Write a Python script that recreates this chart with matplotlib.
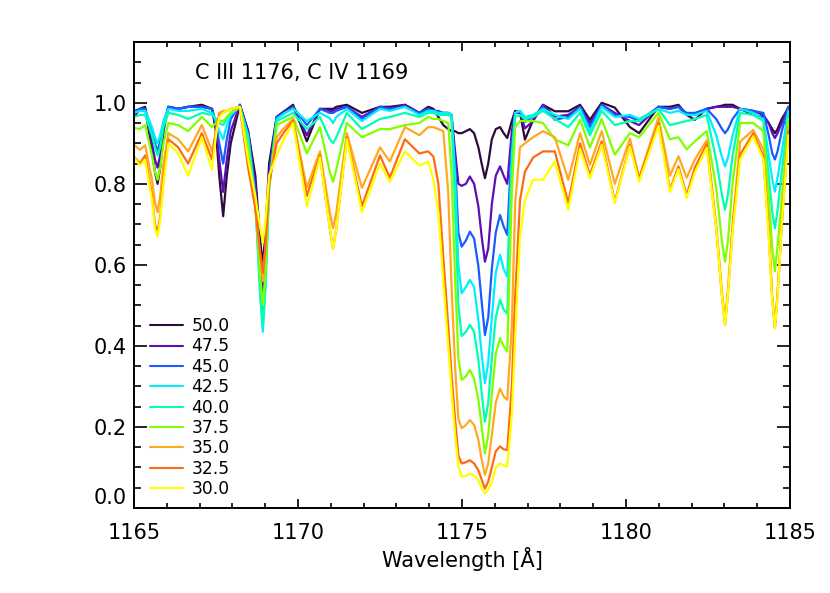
import matplotlib
matplotlib.use("Agg")
import matplotlib.pyplot as plt
from matplotlib.ticker import MultipleLocator

plt.rcParams['font.family'] = ['DejaVu Sans']

labels = ["50.0", "47.5", "45.0", "42.5", "40.0", "37.5", "35.0", "32.5", "30.0"]
colors = ["#2d0b3a", "#5a10b4", "#1a5aff", "#00eeff", "#00ffb4", "#80ff00", "#ffaa1e", "#ff6a14", "#ffff00"]

wave = [1165.00, 1165.18, 1165.34, 1165.55, 1165.72, 1165.90, 1166.05, 1166.35, 1166.65, 1167.07,
        1167.38, 1167.50, 1167.60, 1167.72, 1167.95, 1168.23, 1168.48, 1168.70, 1168.93, 1169.12,
        1169.35, 1169.60, 1169.85, 1170.27, 1170.67, 1171.07, 1171.49, 1171.95, 1172.50, 1172.80,
        1173.26, 1173.70, 1173.97, 1174.13, 1174.28, 1174.43, 1174.58, 1174.68, 1174.79, 1174.89,
        1174.99, 1175.12, 1175.24, 1175.37, 1175.50, 1175.60, 1175.70, 1175.80, 1175.91, 1176.03,
        1176.16, 1176.27, 1176.38, 1176.52, 1176.62, 1176.77, 1176.92, 1177.17, 1177.47, 1177.83,
        1178.24, 1178.60, 1178.90, 1179.26, 1179.66, 1180.12, 1180.40, 1180.99, 1181.34, 1181.60,
        1181.85, 1182.10, 1182.46, 1182.75, 1183.02, 1183.25, 1183.48, 1183.88, 1184.19, 1184.35,
        1184.54, 1184.75, 1184.95, 1185.00]

f500 = [0.965, 0.985, 0.990, 0.880, 0.800, 0.930, 0.990, 0.985, 0.990, 0.995,
        0.985, 0.930, 0.820, 0.720, 0.900, 0.995, 0.930, 0.820, 0.600, 0.850,
        0.965, 0.980, 0.995, 0.905, 0.985, 0.985, 0.995, 0.975, 0.990, 0.990,
        0.995, 0.975, 0.990, 0.985, 0.965, 0.945, 0.935, 0.930, 0.930, 0.925,
        0.925, 0.930, 0.935, 0.925, 0.890, 0.850, 0.814, 0.850, 0.910, 0.935,
        0.940, 0.925, 0.913, 0.955, 0.980, 0.975, 0.909, 0.958, 0.995, 0.979,
        0.979, 0.995, 0.958, 1.000, 0.988, 0.940, 0.925, 0.990, 0.990, 0.995,
        0.970, 0.958, 0.985, 0.990, 0.995, 0.995, 0.985, 0.970, 0.965, 0.950,
        0.925, 0.960, 0.987, 0.987]
f475 = [0.970, 0.985, 0.985, 0.900, 0.840, 0.940, 0.990, 0.985, 0.990, 0.990,
        0.985, 0.940, 0.860, 0.780, 0.930, 0.995, 0.930, 0.800, 0.535, 0.830,
        0.965, 0.980, 0.990, 0.920, 0.985, 0.980, 0.990, 0.965, 0.990, 0.985,
        0.995, 0.975, 0.985, 0.980, 0.975, 0.975, 0.975, 0.970, 0.880, 0.800,
        0.795, 0.800, 0.818, 0.800, 0.744, 0.670, 0.608, 0.640, 0.750, 0.820,
        0.843, 0.820, 0.800, 0.930, 0.975, 0.975, 0.937, 0.955, 0.995, 0.966,
        0.970, 0.990, 0.950, 0.995, 0.975, 0.955, 0.945, 0.990, 0.985, 0.990,
        0.970, 0.970, 0.985, 0.990, 0.990, 0.990, 0.985, 0.980, 0.970, 0.950,
        0.913, 0.950, 0.990, 0.990]
f450 = [0.980, 0.985, 0.985, 0.930, 0.880, 0.950, 0.990, 0.985, 0.990, 0.990,
        0.985, 0.950, 0.900, 0.850, 0.960, 0.995, 0.920, 0.780, 0.475, 0.810,
        0.965, 0.975, 0.990, 0.945, 0.985, 0.975, 0.990, 0.960, 0.990, 0.985,
        0.990, 0.975, 0.985, 0.980, 0.980, 0.975, 0.975, 0.970, 0.850, 0.680,
        0.645, 0.660, 0.682, 0.665, 0.596, 0.510, 0.427, 0.470, 0.590, 0.680,
        0.723, 0.695, 0.674, 0.900, 0.975, 0.980, 0.953, 0.965, 0.990, 0.958,
        0.965, 0.990, 0.940, 0.995, 0.970, 0.965, 0.955, 0.990, 0.985, 0.990,
        0.975, 0.975, 0.985, 0.960, 0.925, 0.960, 0.985, 0.980, 0.975, 0.920,
        0.860, 0.930, 0.990, 0.990]
f425 = [0.975, 0.980, 0.980, 0.940, 0.900, 0.955, 0.985, 0.980, 0.980, 0.985,
        0.975, 0.955, 0.930, 0.910, 0.970, 0.990, 0.920, 0.760, 0.435, 0.790,
        0.960, 0.975, 0.985, 0.955, 0.975, 0.950, 0.985, 0.955, 0.985, 0.980,
        0.990, 0.970, 0.980, 0.980, 0.975, 0.975, 0.975, 0.970, 0.820, 0.600,
        0.530, 0.545, 0.563, 0.545, 0.464, 0.380, 0.308, 0.360, 0.470, 0.580,
        0.625, 0.590, 0.571, 0.870, 0.975, 0.980, 0.965, 0.970, 0.985, 0.970,
        0.960, 0.985, 0.930, 0.990, 0.965, 0.970, 0.960, 0.985, 0.975, 0.980,
        0.970, 0.970, 0.980, 0.920, 0.843, 0.920, 0.985, 0.975, 0.960, 0.870,
        0.781, 0.880, 0.980, 0.980]
f400 = [0.965, 0.970, 0.970, 0.920, 0.870, 0.940, 0.975, 0.970, 0.960, 0.975,
        0.970, 0.960, 0.950, 0.945, 0.975, 0.990, 0.900, 0.760, 0.450, 0.790,
        0.955, 0.965, 0.975, 0.935, 0.965, 0.900, 0.975, 0.935, 0.960, 0.965,
        0.975, 0.965, 0.975, 0.975, 0.970, 0.970, 0.970, 0.965, 0.750, 0.500,
        0.424, 0.435, 0.452, 0.435, 0.365, 0.285, 0.213, 0.260, 0.370, 0.470,
        0.514, 0.490, 0.480, 0.840, 0.965, 0.970, 0.960, 0.965, 0.980, 0.960,
        0.940, 0.975, 0.920, 0.980, 0.945, 0.955, 0.955, 0.985, 0.945, 0.950,
        0.955, 0.960, 0.970, 0.860, 0.736, 0.870, 0.975, 0.970, 0.955, 0.820,
        0.690, 0.830, 0.970, 0.970]
f375 = [0.938, 0.935, 0.945, 0.870, 0.810, 0.900, 0.950, 0.945, 0.930, 0.965,
        0.940, 0.950, 0.955, 0.955, 0.975, 0.990, 0.890, 0.750, 0.500, 0.790,
        0.945, 0.955, 0.965, 0.875, 0.940, 0.805, 0.950, 0.915, 0.935, 0.935,
        0.945, 0.950, 0.965, 0.960, 0.960, 0.955, 0.950, 0.830, 0.570, 0.370,
        0.316, 0.325, 0.341, 0.320, 0.267, 0.200, 0.135, 0.180, 0.280, 0.380,
        0.419, 0.400, 0.386, 0.780, 0.940, 0.955, 0.955, 0.955, 0.950, 0.910,
        0.895, 0.958, 0.890, 0.960, 0.872, 0.925, 0.915, 0.975, 0.910, 0.915,
        0.885, 0.905, 0.930, 0.790, 0.608, 0.800, 0.950, 0.950, 0.930, 0.770,
        0.584, 0.760, 0.960, 0.960]
f350 = [0.896, 0.884, 0.895, 0.810, 0.730, 0.850, 0.925, 0.910, 0.880, 0.945,
        0.880, 0.930, 0.975, 0.980, 0.985, 0.990, 0.850, 0.740, 0.560, 0.800,
        0.915, 0.940, 0.960, 0.790, 0.880, 0.690, 0.925, 0.790, 0.890, 0.855,
        0.940, 0.920, 0.940, 0.940, 0.935, 0.930, 0.780, 0.550, 0.350, 0.220,
        0.197, 0.205, 0.217, 0.205, 0.168, 0.120, 0.082, 0.110, 0.180, 0.260,
        0.295, 0.275, 0.267, 0.450, 0.750, 0.890, 0.900, 0.915, 0.930, 0.915,
        0.810, 0.925, 0.847, 0.930, 0.800, 0.912, 0.815, 0.964, 0.820, 0.868,
        0.815, 0.860, 0.907, 0.700, 0.464, 0.700, 0.904, 0.933, 0.884, 0.700,
        0.447, 0.700, 0.940, 0.940]
f325 = [0.867, 0.850, 0.870, 0.770, 0.680, 0.810, 0.910, 0.890, 0.850, 0.925,
        0.860, 0.930, 0.970, 0.975, 0.985, 0.990, 0.840, 0.740, 0.580, 0.800,
        0.900, 0.930, 0.955, 0.770, 0.870, 0.640, 0.915, 0.745, 0.870, 0.815,
        0.910, 0.875, 0.880, 0.867, 0.800, 0.620, 0.450, 0.330, 0.220, 0.130,
        0.110, 0.113, 0.118, 0.110, 0.093, 0.070, 0.048, 0.065, 0.100, 0.140,
        0.152, 0.145, 0.143, 0.300, 0.520, 0.760, 0.830, 0.865, 0.880, 0.880,
        0.753, 0.900, 0.822, 0.905, 0.756, 0.896, 0.812, 0.950, 0.785, 0.843,
        0.772, 0.840, 0.898, 0.690, 0.452, 0.690, 0.872, 0.925, 0.867, 0.680,
        0.444, 0.700, 0.930, 0.930]
f300 = [0.865, 0.845, 0.860, 0.760, 0.670, 0.800, 0.900, 0.875, 0.820, 0.915,
        0.835, 0.920, 0.965, 0.975, 0.985, 0.990, 0.860, 0.770, 0.655, 0.820,
        0.870, 0.915, 0.950, 0.745, 0.865, 0.640, 0.910, 0.730, 0.850, 0.805,
        0.880, 0.845, 0.855, 0.810, 0.730, 0.560, 0.400, 0.290, 0.180, 0.105,
        0.077, 0.080, 0.085, 0.080, 0.069, 0.050, 0.036, 0.045, 0.065, 0.100,
        0.110, 0.105, 0.102, 0.230, 0.420, 0.670, 0.760, 0.810, 0.810, 0.855,
        0.736, 0.887, 0.814, 0.896, 0.752, 0.892, 0.805, 0.943, 0.780, 0.836,
        0.765, 0.828, 0.889, 0.690, 0.452, 0.680, 0.860, 0.917, 0.860, 0.670,
        0.444, 0.700, 0.920, 0.920]

# extra readings near the bottoms of the narrow absorption lines
wave_extra = [1165.64, 1165.80, 1167.83, 1168.85, 1169.01, 1170.97, 1171.17,
              1182.93, 1183.11, 1184.46, 1184.62]
e500 = [0.830, 0.840, 0.820, 0.660, 0.680, 0.985, 0.990, 0.993, 0.995, 0.935, 0.935]
e475 = [0.860, 0.870, 0.860, 0.610, 0.630, 0.980, 0.985, 0.990, 0.990, 0.925, 0.925]
e450 = [0.900, 0.905, 0.910, 0.560, 0.580, 0.975, 0.980, 0.935, 0.935, 0.875, 0.880]
e425 = [0.915, 0.920, 0.945, 0.520, 0.550, 0.962, 0.965, 0.865, 0.865, 0.810, 0.815]
e400 = [0.890, 0.890, 0.960, 0.530, 0.550, 0.910, 0.915, 0.770, 0.775, 0.730, 0.735]
e375 = [0.830, 0.840, 0.965, 0.570, 0.580, 0.830, 0.835, 0.655, 0.660, 0.640, 0.645]
e350 = [0.755, 0.770, 0.980, 0.620, 0.640, 0.730, 0.730, 0.530, 0.540, 0.520, 0.530]
e325 = [0.700, 0.720, 0.980, 0.630, 0.650, 0.690, 0.690, 0.520, 0.530, 0.515, 0.525]
e300 = [0.690, 0.710, 0.980, 0.690, 0.710, 0.690, 0.690, 0.520, 0.530, 0.510, 0.520]

series = [f500, f475, f450, f425, f400, f375, f350, f325, f300]
extras = [e500, e475, e450, e425, e400, e375, e350, e325, e300]
yticks = [0.0, 0.2, 0.4, 0.6, 0.8, 1.0]
ytick_labels = ["0.0", "0.2", "0.4", "0.6", "0.8", "1.0"]

fig = plt.figure(figsize=(8.30, 5.93), dpi=100)
ax = fig.add_axes([0.1614, 0.1433, 0.7904, 0.7859])

for lab, col, vals, ext in zip(labels, colors, series, extras):
    pts = sorted(zip(wave + wave_extra, vals + ext))
    xs = [p[0] for p in pts]
    ys = [p[1] for p in pts]
    ax.plot(xs, ys, color=col, lw=1.6, label=lab,
            solid_joinstyle='round', solid_capstyle='round')

ax.set_xlim(1165, 1185)
ax.set_ylim(0.0, 1.15)
ax.xaxis.set_major_locator(MultipleLocator(5))
ax.xaxis.set_minor_locator(MultipleLocator(1))
ax.yaxis.set_minor_locator(MultipleLocator(0.05))
ax.set_yticks(yticks)
ax.set_yticklabels(ytick_labels)
ax.get_yticklabels()[0].set_verticalalignment('bottom')
ax.tick_params(which='both', direction='in', top=True, right=True, width=1.2)
ax.tick_params(axis='x', which='major', length=6.7, labelsize=15, pad=11)
ax.tick_params(axis='x', which='minor', length=3.4)
ax.tick_params(axis='y', which='major', length=9.4, labelsize=15, pad=5)
ax.tick_params(axis='y', which='minor', length=4.7)
for s in ax.spines.values():
    s.set_linewidth(1.4)

ax.set_xlabel("Wavelength [Å]", fontsize=15, labelpad=3)
ax.text(0.093, 0.933, "C III 1176, C IV 1169", transform=ax.transAxes,
        fontsize=15, va='center', ha='left')

leg = ax.legend(loc='lower left', bbox_to_anchor=(0.0244, 0.021), frameon=False,
                fontsize=12.3, handlelength=1.95, handletextpad=0.47, labelspacing=0.14,
                borderaxespad=0.0, borderpad=0.0)
for h in leg.get_lines():
    h.set_linewidth(1.5)

fig.savefig("out.png", dpi=100)
